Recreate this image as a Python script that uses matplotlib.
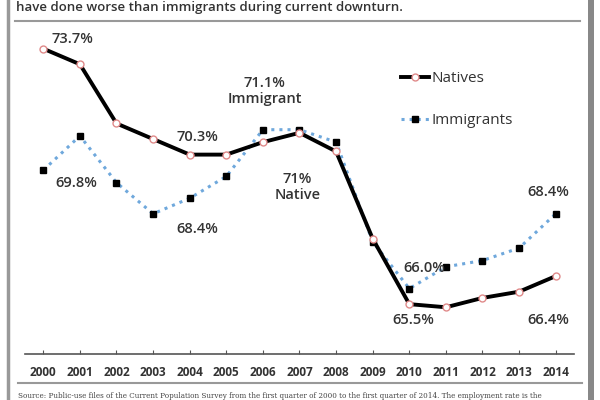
# Employment rate: natives vs immigrants, 2000-2014
import matplotlib.pyplot as plt
from matplotlib.patches import Rectangle
from matplotlib.lines import Line2D

# X axis
years = list(range(2000, 2015))

# Y axes (employment rate, %)
natives = [73.7, 73.2, 71.3, 70.8, 70.3, 70.3, 70.7, 71.0, 70.4, 67.6, 65.5, 65.4, 65.7, 65.9, 66.4]
immigrants = [69.8, 70.9, 69.4, 68.4, 68.9, 69.6, 71.1, 71.1, 70.7, 67.5, 66.0, 66.7, 66.9, 67.3, 68.4]

# callouts: (text, x, y) in data coords
callouts = [
    ("73.7%", 2000.8, 74.0),
    ("69.8%", 2000.9, 69.4),
    ("70.3%", 2004.2, 70.85),
    ("68.4%", 2004.2, 67.9),
    ("71.1%\nImmigrant", 2006.05, 72.35),
    ("71%\nNative", 2006.95, 69.25),
    ("68.4%", 2013.8, 69.1),
    ("66.0%", 2010.4, 66.65),
    ("65.5%", 2010.1, 65.0),
    ("66.4%", 2013.8, 65.0),
]

plt.rcParams['font.family'] = ['Open Sans', 'DejaVu Sans']
txt = '#333333'

fig = plt.figure(figsize=(6, 4), dpi=100)
ax = fig.add_axes([25 / 600, 1 - 354 / 400, 549 / 600, 324 / 400])

ax.plot(years, immigrants, color='#6fa8dc', linestyle=':', lw=2.2,
        marker='s', markersize=4, markerfacecolor='black', markeredgecolor='black', zorder=2)
ax.plot(years, natives, color='black', lw=2.8,
        marker='o', markersize=5, markerfacecolor='white', markeredgecolor='#e08a8a',
        markeredgewidth=1, zorder=3)

for label, x, y in callouts:
    ax.text(x, y, label, ha='center', va='center', fontsize=10.5, color=txt,
            fontweight='semibold', linespacing=1.2)

ax.set_xlim(1999.5, 2014.5)
ax.set_ylim(63.9, 74.3)
ax.set_yticks([])
ax.set_xticks(years)
ax.set_xticklabels([str(y) for y in years], fontsize=8.5, fontweight='bold', color=txt)
ax.tick_params(axis='x', direction='in', length=3, color='#555555', pad=9)
for s in ['top', 'right', 'left']:
    ax.spines[s].set_visible(False)
ax.spines['bottom'].set_color('#555555')
ax.spines['bottom'].set_linewidth(1.2)

# legend
handles = [
    Line2D([], [], color='black', lw=2.8, marker='o', markersize=5,
           markerfacecolor='white', markeredgecolor='#e08a8a'),
    Line2D([], [], color='#6fa8dc', lw=2.2, linestyle=':', marker='s', markersize=4,
           markerfacecolor='black', markeredgecolor='black'),
]
ax.legend(handles, ["Natives", "Immigrants"], loc='upper left', bbox_to_anchor=(0.66, 0.915),
          frameon=False, fontsize=11, handlelength=1.8, handletextpad=0.2, labelspacing=1.75,
          labelcolor=txt)

# frame, rules, header and source
fig.add_artist(Rectangle((8 / 600, -0.05), 582 / 600, 1.1, transform=fig.transFigure,
                         fill=False, edgecolor='#999999', lw=2.5))
fig.add_artist(Rectangle((588 / 600, -0.05), 6 / 600, 1.1, transform=fig.transFigure,
                         color='#888888', lw=0))
fig.add_artist(Line2D([15 / 600, 580 / 600], [1 - 21 / 400] * 2, color='#999999', lw=1.5))
fig.add_artist(Line2D([18 / 600, 582 / 600], [1 - 383 / 400] * 2, color='#999999', lw=1.5))
fig.text(16 / 600, 1 - 11 / 400, "have done worse than immigrants during current downturn.",
         fontsize=9.5, fontweight='semibold', color=txt, va='baseline')
fig.text(18 / 600, 1 - 398 / 400,
         "Source: Public-use files of the Current Population Survey from the first quarter of 2000 "
         "to the first quarter of 2014. The employment rate is the",
         fontsize=5.2, family='DejaVu Serif', color='#444444', va='baseline')

plt.savefig('out.png', dpi=100)
